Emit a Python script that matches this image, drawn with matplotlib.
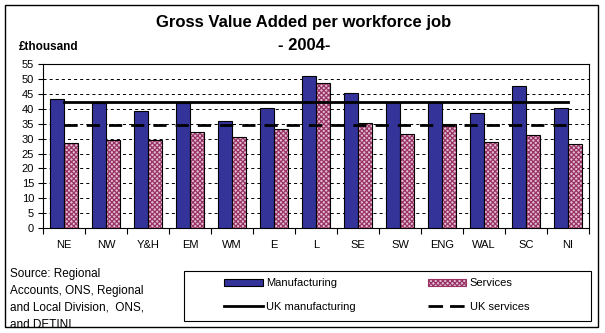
import numpy as np
import matplotlib.pyplot as plt
from matplotlib.patches import Rectangle, Patch
from matplotlib.lines import Line2D

plt.rcParams['font.family'] = ['Liberation Sans', 'DejaVu Sans']
plt.rcParams['lines.scale_dashes'] = False
plt.rcParams['hatch.linewidth'] = 0.9

# GVA per workforce job, 2004 (GBP thousand)
regions = ['NE', 'NW', 'Y&H', 'EM', 'WM', 'E', 'L', 'SE', 'SW', 'ENG', 'WAL', 'SC', 'NI']
manufacturing = [43.3, 42.0, 39.4, 42.1, 36.0, 40.3, 51.1, 45.3, 42.3, 42.2, 38.8, 47.8, 40.3]
services = [28.7, 29.4, 29.4, 32.1, 30.7, 33.3, 48.7, 35.4, 31.7, 35.0, 28.8, 31.3, 28.3]
uk_manufacturing = 42.2
uk_services = 34.5

navy = '#333399'
plum = '#993366'

fig = plt.figure(figsize=(6.05, 3.33), dpi=100)
W, H = 605.0, 333.0

def fx(px):
    return px / W

def fy(py):
    return 1 - py / H

ax = fig.add_axes([fx(43), fy(228), fx(589) - fx(43), fy(64.3) - fy(228)])

x = np.arange(len(regions))
bw = 1 / 3.0

ax.bar(x - bw / 2, manufacturing, bw, color=navy, edgecolor='black', linewidth=0.8, zorder=3)
# checked fill for services, then a black outline on top
ax.bar(x + bw / 2, services, bw, color='#e3bdd0', edgecolor=plum, hatch='xxxxxxx', linewidth=0, zorder=3)
ax.bar(x + bw / 2, services, bw, color='none', edgecolor='black', linewidth=0.8, zorder=4)

ax.plot(x, [uk_manufacturing] * len(x), color='black', lw=2, zorder=5)
ax.plot(x, [uk_services] * len(x), color='black', lw=2, dashes=(9.5, 6.5), zorder=5)

ax.set_xlim(-0.5, len(regions) - 0.5)
ax.set_ylim(0, 55)
ax.set_yticks(np.arange(0, 56, 5))
ax.yaxis.grid(True, color='black', lw=0.7, dashes=(2.2, 2.2))
ax.set_axisbelow(True)

ax.set_xticks(np.arange(-0.5, len(regions), 1))
ax.set_xticklabels([])
ax.set_xticks(x, minor=True)
ax.set_xticklabels(regions, minor=True)
ax.tick_params(axis='x', which='major', direction='out', length=4, width=0.8)
ax.tick_params(axis='x', which='minor', length=0, pad=9, labelsize=8)
ax.tick_params(axis='y', direction='out', length=3.5, width=0.8, pad=3, labelsize=8)
for s in ax.spines.values():
    s.set_linewidth(0.8)

# title and unit label
fig.text(fx(304), fy(22.5), 'Gross Value Added per workforce job', ha='center', va='center',
         fontsize=12, fontweight='bold')
fig.text(fx(304), fy(45), '- 2004-', ha='center', va='center', fontsize=12, fontweight='bold')
fig.text(fx(19), fy(47.3), '£thousand', ha='left', va='center', fontsize=8.5, fontweight='bold')

# outer frame
frame = Rectangle((fx(5), fy(327)), fx(598) - fx(5), fy(5) - fy(327), transform=fig.transFigure,
                  fill=False, edgecolor='black', lw=1)
fig.patches.append(frame)

src_lines = ['Source: Regional', 'Accounts, ONS, Regional', 'and Local Division,  ONS,', 'and DETINI']
for i, line in enumerate(src_lines):
    t = fig.text(fx(10), fy(274 + 17 * i), line, ha='left', va='center', fontsize=8.5)
    t.set_clip_path(frame)

# legend box
box = Rectangle((fx(184), fy(321)), fx(591) - fx(184), fy(271) - fy(321), transform=fig.transFigure,
                fill=False, edgecolor='black', lw=0.8)
fig.patches.append(box)

handles = [
    Patch(facecolor=navy, edgecolor='black', lw=0.8, label='Manufacturing'),
    Line2D([], [], color='black', lw=2, label='UK manufacturing'),
    Patch(facecolor='#e3bdd0', edgecolor=plum, hatch='xxxxxxx', lw=0.8, label='Services'),
    Line2D([], [], color='black', lw=2, dashes=(10.5, 5), label='UK services'),
]
fig.legend(handles=handles, ncol=2, loc='upper left', bbox_to_anchor=(fx(224), fy(278.5)),
           frameon=False, fontsize=8, borderpad=0, borderaxespad=0, handlelength=3.5,
           handleheight=0.5, handletextpad=0.3, columnspacing=6.45, labelspacing=1.17)

fig.savefig('out.png', dpi=100)
